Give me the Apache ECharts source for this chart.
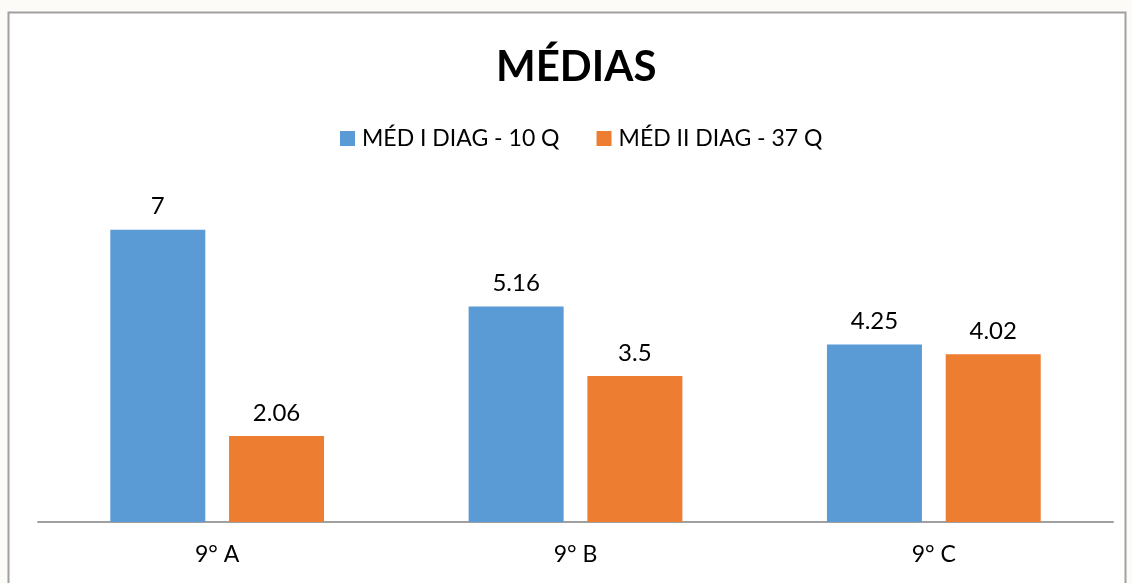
<!DOCTYPE html>
<html><head><meta charset="utf-8">
<script src="https://cdn.jsdelivr.net/npm/echarts@6/dist/echarts.min.js"></script>
<style>html,body{margin:0;padding:0;background:#fdfbf8;}#c{width:1132px;height:583px;}</style>
</head><body><div id="c"></div>
<script>
const categories = ['9° A', '9° B', '9° C'];
const seriesNames = ['MÉD I DIAG - 10 Q', 'MÉD II DIAG - 37 Q'];
const med1 = [7, 5.16, 4.25];
const med2 = [2.06, 3.5, 4.02];
const FONT = 'Lato';
const chart = echarts.init(document.getElementById('c'));
chart.setOption({
  backgroundColor: '#fdfbf8',
  animation: false,
  textStyle: {fontFamily: FONT},
  graphic: [{type: 'rect', z: -10, shape: {x: 8.5, y: 12.5, width: 1117, height: 600},
    style: {fill: '#ffffff', stroke: '#a0a0a0', lineWidth: 2}}],
  title: {text: 'MÉDIAS', left: 491, top: 41,
    textStyle: {fontFamily: FONT, fontSize: 42, fontWeight: 'bold', color: '#000'}},
  legend: {top: 122, left: 335, itemWidth: 15, itemHeight: 15, itemGap: 37, icon: 'rect',
    textStyle: {fontFamily: FONT, fontSize: 23, color: '#000', padding: [0, 0, 0, 2]}},
  grid: {left: 38, width: 1075, top: 188, height: 334},
  xAxis: {type: 'category', data: categories,
    axisLine: {lineStyle: {color: '#a0a0a0', width: 2}}, axisTick: {show: false},
    axisLabel: {fontFamily: FONT, fontSize: 23, color: '#000', margin: 21}},
  yAxis: {type: 'value', min: 0, max: 8, show: false, splitLine: {show: false}},
  series: [
    {name: seriesNames[0], type: 'bar', data: med1, barWidth: 95, barGap: '25%',
     itemStyle: {color: '#5b9bd5'},
     label: {show: true, position: 'top', distance: 11, fontSize: 24, color: '#000', fontFamily: FONT}},
    {name: seriesNames[1], type: 'bar', data: med2, barWidth: 95,
     itemStyle: {color: '#ed7d31'},
     label: {show: true, position: 'top', distance: 11, fontSize: 24, color: '#000', fontFamily: FONT}}
  ]
});
</script></body></html>
